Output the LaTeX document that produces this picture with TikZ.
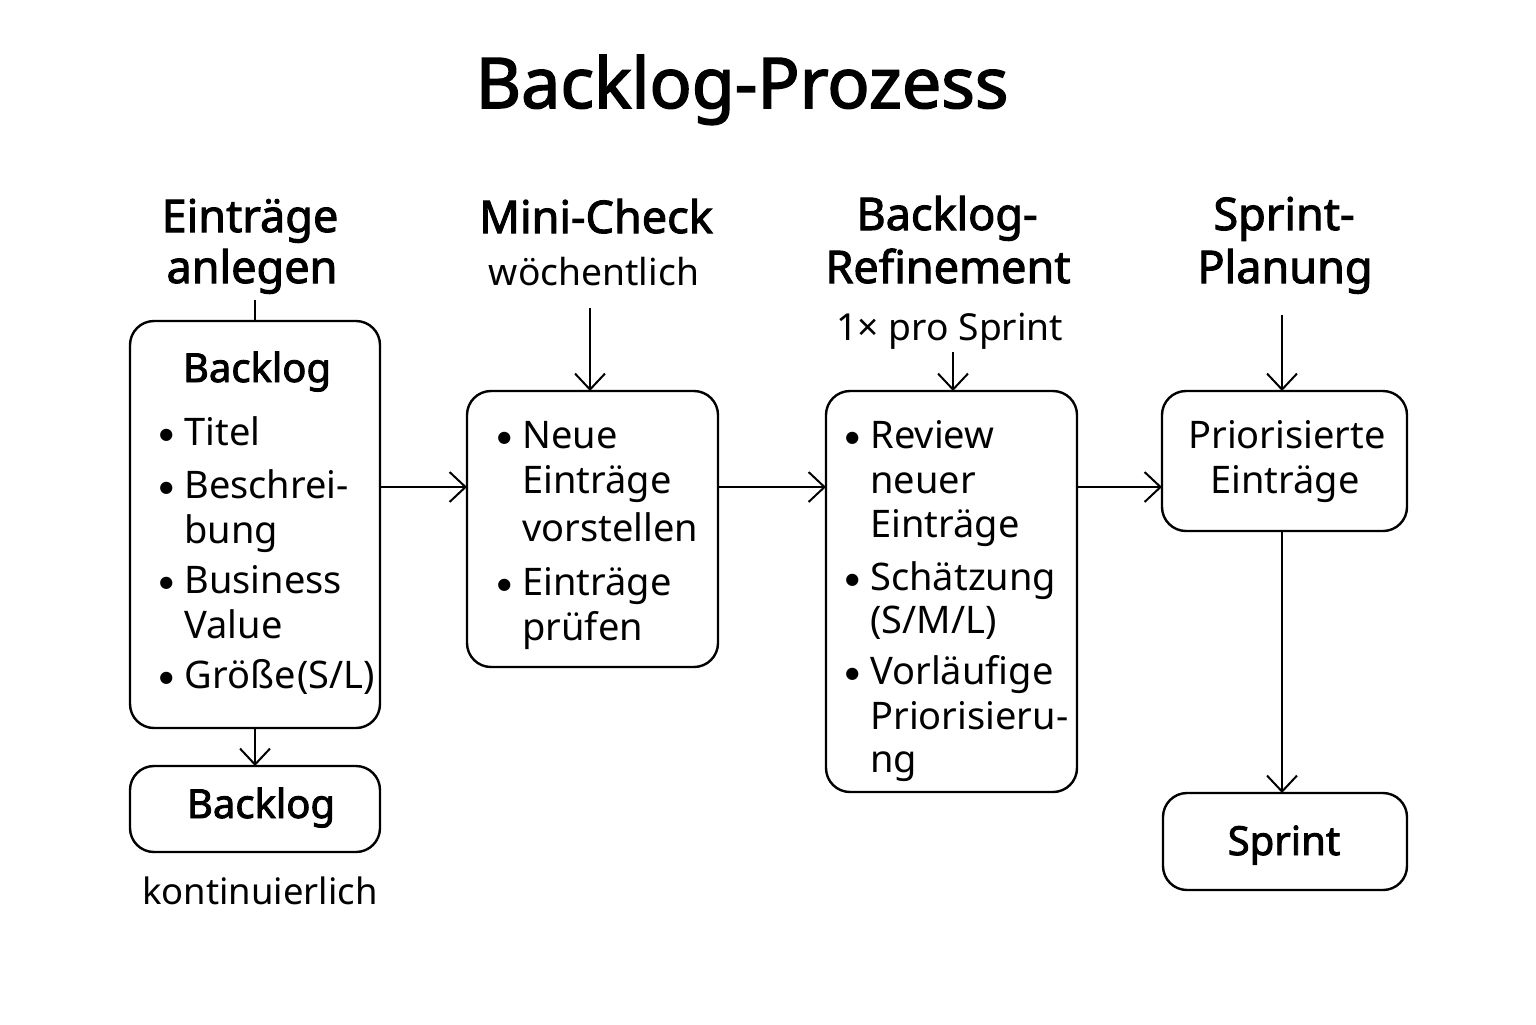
\documentclass[tikz,border=0pt]{standalone}
\usepackage{fontspec}
\setmainfont{Noto Sans}
\newfontfamily\medfont{Noto Sans}[FakeBold=2.2]
\newfontfamily\dejavu{DejaVu Sans}
\usetikzlibrary{arrows.meta}
\tikzset{
  box/.style={draw, line width=1.2pt, rounded corners=12pt, outer sep=0pt, inner sep=0pt},
  arr/.style={line width=1pt, -{Straight Barb[length=8pt,width=15pt,line width=1pt]}},
  plain/.style={line width=1pt},
  ttl/.style={font=\medfont\fontsize{35}{40}\selectfont, anchor=base, inner sep=0pt},
  hdr/.style={font=\medfont\fontsize{22.5}{26}\selectfont, anchor=base, inner sep=0pt},
  sub/.style={font=\fontsize{18.6}{22}\selectfont, anchor=base, inner sep=0pt},
  bhd/.style={font=\medfont\fontsize{20}{22}\selectfont, anchor=base, inner sep=0pt},
  itm/.style={font=\fontsize{19}{22}\selectfont, anchor=base west, inner sep=0pt},
  ctr/.style={font=\fontsize{19}{22}\selectfont, anchor=base, inner sep=0pt},
}
\newcommand\bul{\llap{\raisebox{2.6pt}{\dejavu\fontsize{8}{8}\selectfont ●}\hspace{5.5pt}}}
\begin{document}
\begin{tikzpicture}[x=0.5pt,y=-0.5pt]
\useasboundingbox (0,0) rectangle (1536,1024);
% title
\node[ttl] (title) at (742,108) {Backlog-Prozess};
% headers
\node[hdr] (h1a) at (250,232) {Einträge};
\node[hdr] (h1b) at (252,283) {anlegen};
\node[hdr] (h2a) at (596,233) {Mini-Check};
\node[sub] (h2b) at (594,285) {wöchentlich};
\node[hdr] (h3a) at (947,230) {Backlog-};
\node[hdr] (h3b) at (948,283) {Refinement};
\node[sub] (h3c) at (950,340) {1× pro Sprint};
\node[hdr] (h4a) at (1284,230) {Sprint-};
\node[hdr] (h4b) at (1285,283) {Planung};
% boxes
\node[box, minimum width=125pt, minimum height=203.5pt] (b1) at (255,524.5) {};
\node[box, minimum width=125pt, minimum height=43pt] (b1b) at (255,809) {};
\node[box, minimum width=125.5pt, minimum height=138pt] (b2) at (592.5,529) {};
\node[box, minimum width=125.5pt, minimum height=200.5pt] (b3) at (951.5,591.5) {};
\node[box, minimum width=122.5pt, minimum height=70pt] (b4) at (1284.5,461) {};
\node[box, minimum width=122pt, minimum height=48.5pt] (b5) at (1285,841.5) {};
% box 1 text
\node[bhd] (b1t) at (257,382) {Backlog};
\node[itm] (b1l1) at (184,445) {\bul Titel};
\node[itm] (b1l2) at (184,498) {\bul Beschrei-};
\node[itm] (b1l3) at (184,543) {bung};
\node[itm] (b1l4) at (184,593) {\bul Business};
\node[itm] (b1l5) at (184,638) {Value};
\node[itm] (b1l6) at (184,688) {\bul Größe\hspace{1pt}(S/L)};
\node[bhd] (b1bt) at (261,818) {Backlog};
\node[ctr, font=\fontsize{18.2}{22}\selectfont] (kont) at (260,904) {kontinuierlich};
% box 2 text
\node[itm] (b2l1) at (522,448) {\bul Neue};
\node[itm] (b2l2) at (522,493) {Einträge};
\node[itm] (b2l3) at (522,541) {vorstellen};
\node[itm] (b2l4) at (522,595) {\bul Einträge};
\node[itm] (b2l5) at (522,640) {prüfen};
% box 3 text
\node[itm] (b3l1) at (870,448) {\bul Review};
\node[itm] (b3l2) at (870,493) {neuer};
\node[itm] (b3l3) at (870,537) {Einträge};
\node[itm] (b3l4) at (870,590) {\bul Schätzung};
\node[itm] (b3l5) at (870,633) {(S/M/L)};
\node[itm] (b3l6) at (870,684) {\bul Vorläufige};
\node[itm] (b3l7) at (870,729) {Priorisieru-};
\node[itm] (b3l8) at (870,772) {ng};
% box 4 text
\node[ctr] (b4l1) at (1287,448) {Priorisierte};
\node[ctr] (b4l2) at (1285,493) {Einträge};
% box 5 text
\node[bhd] (b5t) at (1284,855) {Sprint};
% connectors
\coordinate (row) at (0,487);
\coordinate (s1) at (255,300);
\coordinate (s2) at (590,308);
\coordinate (s3) at (953,352);
\coordinate (s4) at (1282,315);
\draw[plain] (s1) -- (b1.north);
\draw[arr] (s2) -- (s2 |- b2.north);
\draw[arr] (s3) -- (s3 |- b3.north);
\draw[arr] (s4) -- (s4 |- b4.north);
\draw[arr] (b1.south) -- (b1b.north);
\draw[arr] (b1.east |- row) -- (b2.west |- row);
\draw[arr] (b2.east |- row) -- (b3.west |- row);
\draw[arr] (b3.east |- row) -- (b4.west |- row);
\draw[arr] (s4 |- b4.south) -- (s4 |- b5.north);
\end{tikzpicture}
\end{document}
